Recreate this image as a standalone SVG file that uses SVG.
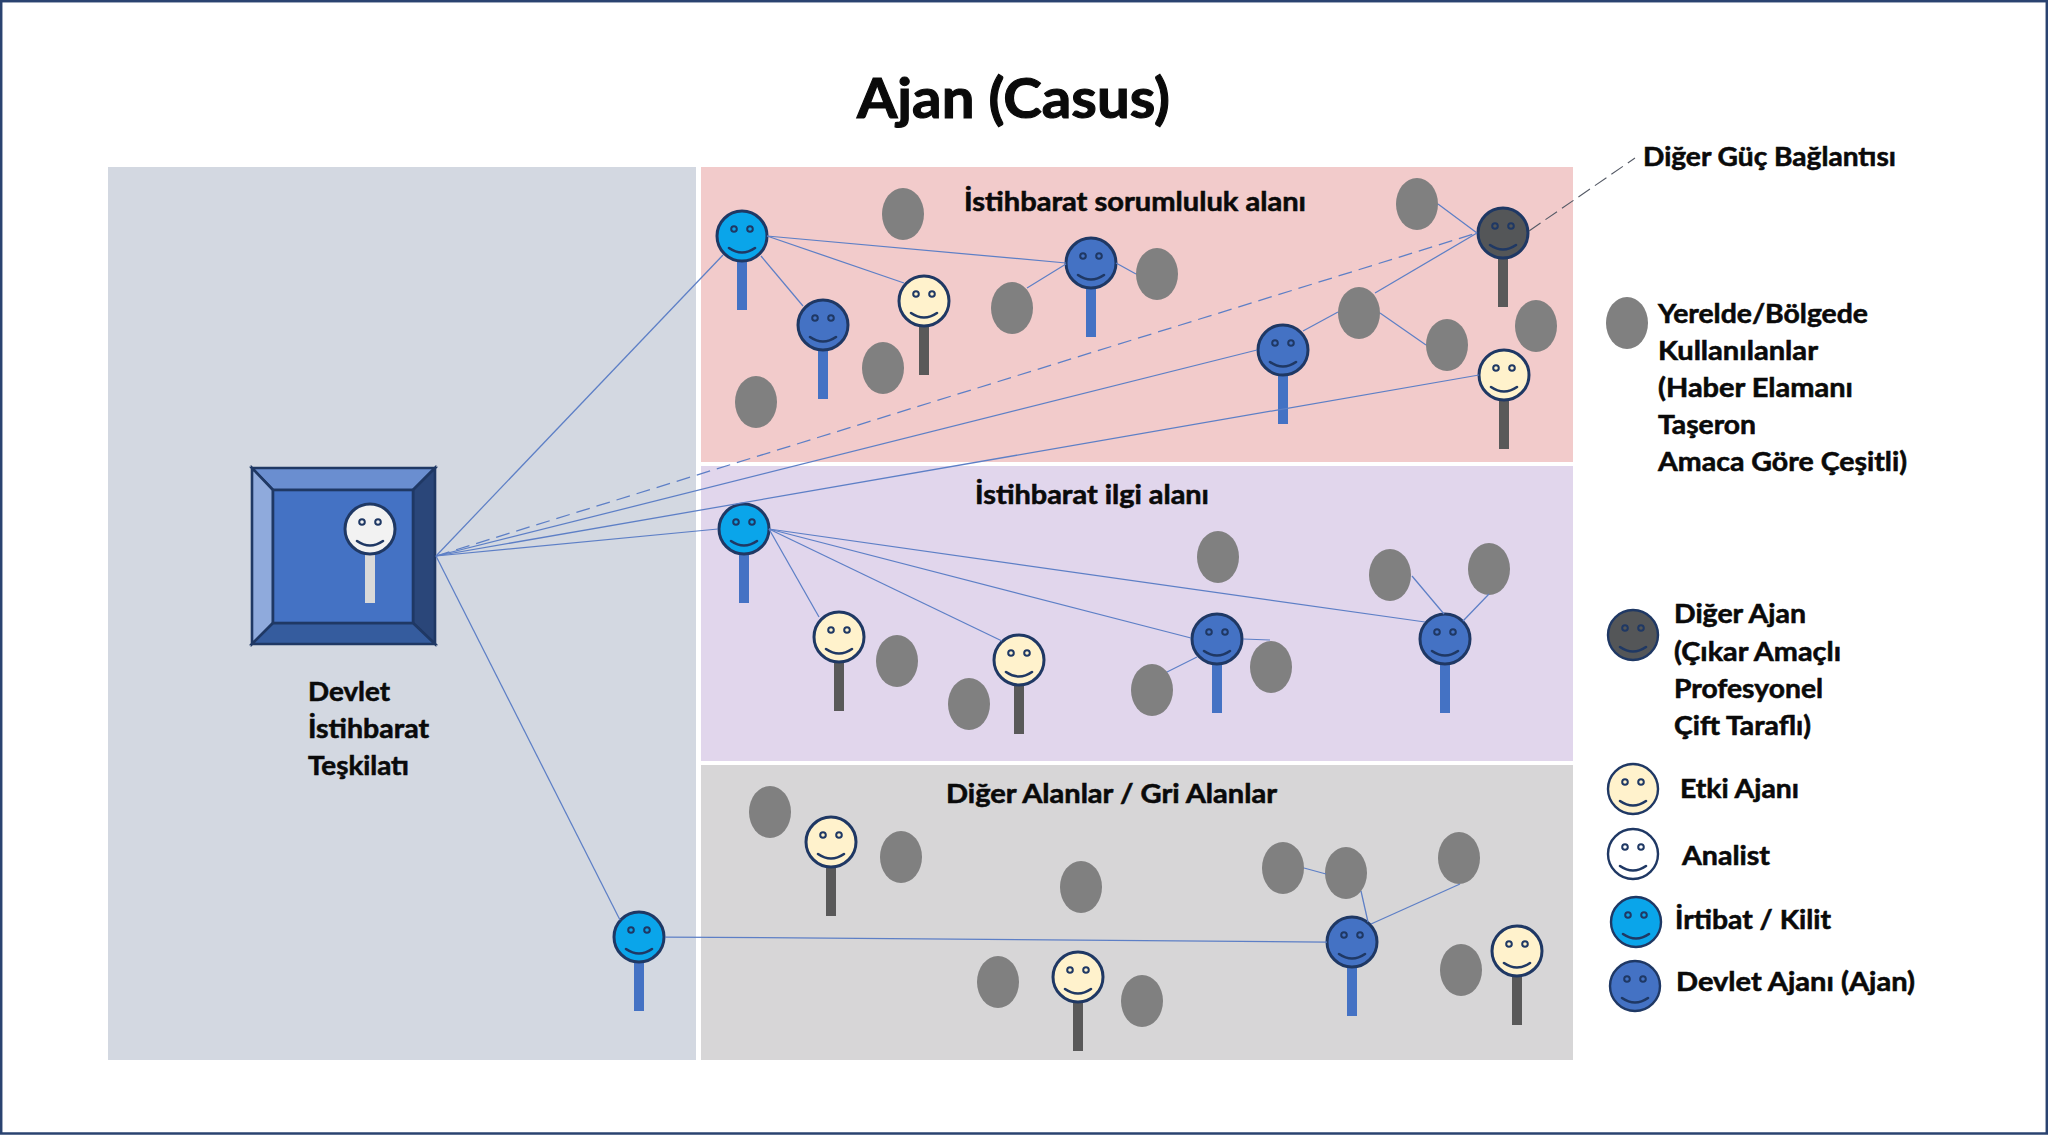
<svg xmlns="http://www.w3.org/2000/svg" xmlns:xlink="http://www.w3.org/1999/xlink" width="2048" height="1136" viewBox="0 0 2048 1136">
<style>
text{font-family:"Lato","Carlito","Open Sans",sans-serif;font-weight:700;fill:#0a0a0a;font-size:26px;stroke:#0a0a0a;stroke-width:.55px}
.title{font-size:55px;stroke-width:1.1px}
.conn line{stroke:#5d7fc6;stroke-width:1.25;fill:none}
.conn line.dash{stroke-dasharray:14 7}
.conn line.ext{stroke:#555a66;stroke-width:1.1;stroke-dasharray:14 6}
.head{stroke:#1f3864;stroke-width:3}
.lg .head{stroke-width:2.4}
.eye{stroke:#1f3864;stroke-width:2;fill:none}
.smile{stroke:#1f3864;stroke-width:2.6;fill:none;stroke-linecap:round}
.local{fill:#808080}
.cyan .head{fill:#0aa5ea}.cyan .stick{fill:#4472c4}
.blue .head{fill:#4472c4}.blue .stick{fill:#4472c4}
.cream .head{fill:#fff2cc}.cream .stick{fill:#595959}
.dark .head{fill:#545658}.dark .stick{fill:#595959}
.white .head{fill:#ffffff}
.boss .head{fill:#f2f2f2}.boss .stick{fill:#d9d9d9}
.bev{stroke:#1f3864;stroke-width:2.6;stroke-linejoin:miter}
</style>
<defs>
<g id="features">
<circle class="eye" cx="-8" cy="-7" r="2.8"/>
<circle class="eye" cx="8" cy="-7" r="2.8"/>
<path class="smile" d="M-13 12Q0 21 13 12"/>
</g>
<rect id="stk" x="-5" y="25" width="10" height="49"/>
<ellipse id="loc" class="local" rx="21" ry="26"/>
</defs>
<rect x="0" y="0" width="2048" height="1136" fill="#ffffff"/>
<rect x="1.2" y="1.2" width="2045.6" height="1132.3" fill="none" stroke="#2a4370" stroke-width="2.5"/>
<g id="panels">
<rect x="108" y="167" width="588" height="893" fill="#d3d8e1"/>
<rect x="701" y="167" width="872" height="295" fill="#f2cbcb"/>
<rect x="701" y="466" width="872" height="295" fill="#e1d6ec"/>
<rect x="701" y="765" width="872" height="295" fill="#d7d6d7"/>
</g>
<text class="title" x="857" y="118" textLength="313" lengthAdjust="spacingAndGlyphs">Ajan (Casus)</text>
<text x="964" y="211" textLength="342" lengthAdjust="spacingAndGlyphs">İstihbarat sorumluluk alanı</text>
<text x="975" y="504" textLength="234" lengthAdjust="spacingAndGlyphs">İstihbarat ilgi alanı</text>
<text x="946" y="803" textLength="331" lengthAdjust="spacingAndGlyphs">Diğer Alanlar / Gri Alanlar</text>
<g id="hq">
<polygon class="bev" points="252,468 435,468 413,490 273,490" fill="#6a8ed0"/>
<polygon class="bev" points="252,468 273,490 273,623 252,644" fill="#8faadc"/>
<polygon class="bev" points="435,468 435,644 413,623 413,490" fill="#2a4679"/>
<polygon class="bev" points="252,644 273,623 413,623 435,644" fill="#355c9e"/>
<rect class="bev" x="273" y="490" width="140" height="133" fill="#4472c4"/>
<g id="analyst-hq" class="boss" transform="translate(370 529)"><use class="stick" href="#stk"/><circle class="head" r="25"/><use href="#features"/></g>
<text x="308" y="701" textLength="82" lengthAdjust="spacingAndGlyphs">Devlet</text>
<text x="308" y="738" textLength="121" lengthAdjust="spacingAndGlyphs">İstihbarat</text>
<text x="308" y="775" textLength="101" lengthAdjust="spacingAndGlyphs">Teşkilatı</text>
</g>
<g id="locals">
<use id="l1" href="#loc" x="903" y="214"/>
<use id="l2" href="#loc" x="756" y="402"/>
<use id="l3" href="#loc" x="883" y="368"/>
<use id="l4" href="#loc" x="1012" y="308"/>
<use id="l5" href="#loc" x="1157" y="274"/>
<use id="l6" href="#loc" x="1417" y="204"/>
<use id="l7" href="#loc" x="1359" y="313"/>
<use id="l8" href="#loc" x="1447" y="345"/>
<use id="l9" href="#loc" x="1536" y="326"/>
<use id="l10" href="#loc" x="1218" y="557"/>
<use id="l11" href="#loc" x="1390" y="575"/>
<use id="l12" href="#loc" x="1489" y="569"/>
<use id="l13" href="#loc" x="897" y="661"/>
<use id="l14" href="#loc" x="969" y="704"/>
<use id="l15" href="#loc" x="1152" y="690"/>
<use id="l16" href="#loc" x="1271" y="667"/>
<use id="l17" href="#loc" x="770" y="812"/>
<use id="l18" href="#loc" x="901" y="857"/>
<use id="l19" href="#loc" x="1081" y="887"/>
<use id="l20" href="#loc" x="998" y="982"/>
<use id="l21" href="#loc" x="1142" y="1001"/>
<use id="l22" href="#loc" x="1283" y="868"/>
<use id="l23" href="#loc" x="1346" y="873"/>
<use id="l24" href="#loc" x="1459" y="858"/>
<use id="l25" href="#loc" x="1461" y="970"/>
</g>
<g id="agents">
<g id="a1" class="cyan" transform="translate(742 236)"><use class="stick" href="#stk"/><circle class="head" r="25"/><use href="#features"/></g>
<g id="a2" class="blue" transform="translate(823 325)"><use class="stick" href="#stk"/><circle class="head" r="25"/><use href="#features"/></g>
<g id="a3" class="cream" transform="translate(924 301)"><use class="stick" href="#stk"/><circle class="head" r="25"/><use href="#features"/></g>
<g id="a4" class="blue" transform="translate(1091 263)"><use class="stick" href="#stk"/><circle class="head" r="25"/><use href="#features"/></g>
<g id="a5" class="dark" transform="translate(1503 233)"><use class="stick" href="#stk"/><circle class="head" r="25"/><use href="#features"/></g>
<g id="a6" class="blue" transform="translate(1283 350)"><use class="stick" href="#stk"/><circle class="head" r="25"/><use href="#features"/></g>
<g id="a7" class="cream" transform="translate(1504 375)"><use class="stick" href="#stk"/><circle class="head" r="25"/><use href="#features"/></g>
<g id="a8" class="cyan" transform="translate(744 529)"><use class="stick" href="#stk"/><circle class="head" r="25"/><use href="#features"/></g>
<g id="a9" class="cream" transform="translate(839 637)"><use class="stick" href="#stk"/><circle class="head" r="25"/><use href="#features"/></g>
<g id="a10" class="cream" transform="translate(1019 660)"><use class="stick" href="#stk"/><circle class="head" r="25"/><use href="#features"/></g>
<g id="a11" class="blue" transform="translate(1217 639)"><use class="stick" href="#stk"/><circle class="head" r="25"/><use href="#features"/></g>
<g id="a12" class="blue" transform="translate(1445 639)"><use class="stick" href="#stk"/><circle class="head" r="25"/><use href="#features"/></g>
<g id="a13" class="cream" transform="translate(831 842)"><use class="stick" href="#stk"/><circle class="head" r="25"/><use href="#features"/></g>
<g id="a14" class="cream" transform="translate(1078 977)"><use class="stick" href="#stk"/><circle class="head" r="25"/><use href="#features"/></g>
<g id="a15" class="blue" transform="translate(1352 942)"><use class="stick" href="#stk"/><circle class="head" r="25"/><use href="#features"/></g>
<g id="a16" class="cream" transform="translate(1517 951)"><use class="stick" href="#stk"/><circle class="head" r="25"/><use href="#features"/></g>
<g id="a17" class="cyan" transform="translate(639 937)"><use class="stick" href="#stk"/><circle class="head" r="25"/><use href="#features"/></g>
</g>
<g id="connectors" class="conn">
<line x1="436" y1="556" x2="723" y2="255"/>
<line x1="436" y1="556" x2="1477" y2="233" class="dash"/>
<line x1="436" y1="556" x2="1257" y2="350"/>
<line x1="436" y1="556" x2="1479" y2="375"/>
<line x1="436" y1="556" x2="718" y2="529"/>
<line x1="436" y1="556" x2="620" y2="920"/>
<line x1="767" y1="236" x2="1066" y2="263"/>
<line x1="767" y1="236" x2="904" y2="283"/>
<line x1="761" y1="256" x2="803" y2="306"/>
<line x1="1066" y1="264" x2="1027" y2="288"/>
<line x1="1116" y1="263" x2="1136" y2="274"/>
<line x1="1438" y1="204" x2="1477" y2="233"/>
<line x1="1303" y1="331" x2="1338" y2="312"/>
<line x1="1375" y1="293" x2="1477" y2="233"/>
<line x1="1380" y1="313" x2="1426" y2="345"/>
<line x1="1529" y1="231" x2="1635" y2="158" class="ext"/>
<line x1="769" y1="529" x2="819" y2="617"/>
<line x1="769" y1="529" x2="1002" y2="641"/>
<line x1="769" y1="529" x2="1191" y2="638"/>
<line x1="769" y1="529" x2="1425" y2="622"/>
<line x1="1243" y1="639" x2="1270" y2="640"/>
<line x1="1197" y1="657" x2="1167" y2="672"/>
<line x1="1412" y1="576" x2="1444" y2="614"/>
<line x1="1489" y1="594" x2="1463" y2="621"/>
<line x1="665" y1="937" x2="1327" y2="942"/>
<line x1="1304" y1="868" x2="1326" y2="874"/>
<line x1="1361" y1="891" x2="1368" y2="922"/>
<line x1="1460" y1="884" x2="1371" y2="924"/>
</g>
<g id="legend">
<text x="1643" y="166" textLength="253" lengthAdjust="spacingAndGlyphs">Diğer Güç Bağlantısı</text>
<g id="lg-local"><use href="#loc" x="1627" y="323"/>
<text x="1658" y="323" textLength="210" lengthAdjust="spacingAndGlyphs">Yerelde/Bölgede</text>
<text x="1658" y="360" textLength="160" lengthAdjust="spacingAndGlyphs">Kullanılanlar</text>
<text x="1658" y="397" textLength="195" lengthAdjust="spacingAndGlyphs">(Haber Elamanı</text>
<text x="1658" y="434" textLength="98" lengthAdjust="spacingAndGlyphs">Taşeron</text>
<text x="1658" y="471" textLength="249" lengthAdjust="spacingAndGlyphs">Amaca Göre Çeşitli)</text></g>
<g id="lg-dark" class="lg dark"><g transform="translate(1633 635)"><circle class="head" r="25"/><use href="#features"/></g>
<text x="1674" y="623" textLength="132" lengthAdjust="spacingAndGlyphs">Diğer Ajan</text>
<text x="1674" y="661" textLength="167" lengthAdjust="spacingAndGlyphs">(Çıkar Amaçlı</text>
<text x="1674" y="698" textLength="149" lengthAdjust="spacingAndGlyphs">Profesyonel</text>
<text x="1674" y="735" textLength="137" lengthAdjust="spacingAndGlyphs">Çift Taraflı)</text></g>
<g id="lg-cream" class="lg cream"><g transform="translate(1633 789)"><circle class="head" r="25"/><use href="#features"/></g>
<text x="1680" y="798" textLength="119" lengthAdjust="spacingAndGlyphs">Etki Ajanı</text></g>
<g id="lg-white" class="lg white"><g transform="translate(1633 854)"><circle class="head" r="25"/><use href="#features"/></g>
<text x="1682" y="865" textLength="88" lengthAdjust="spacingAndGlyphs">Analist</text></g>
<g id="lg-cyan" class="lg cyan"><g transform="translate(1636 922)"><circle class="head" r="25"/><use href="#features"/></g>
<text x="1675" y="929" textLength="156" lengthAdjust="spacingAndGlyphs">İrtibat / Kilit</text></g>
<g id="lg-blue" class="lg blue"><g transform="translate(1635 986)"><circle class="head" r="25"/><use href="#features"/></g>
<text x="1676" y="991" textLength="239" lengthAdjust="spacingAndGlyphs">Devlet Ajanı (Ajan)</text></g>
</g>
</svg>
